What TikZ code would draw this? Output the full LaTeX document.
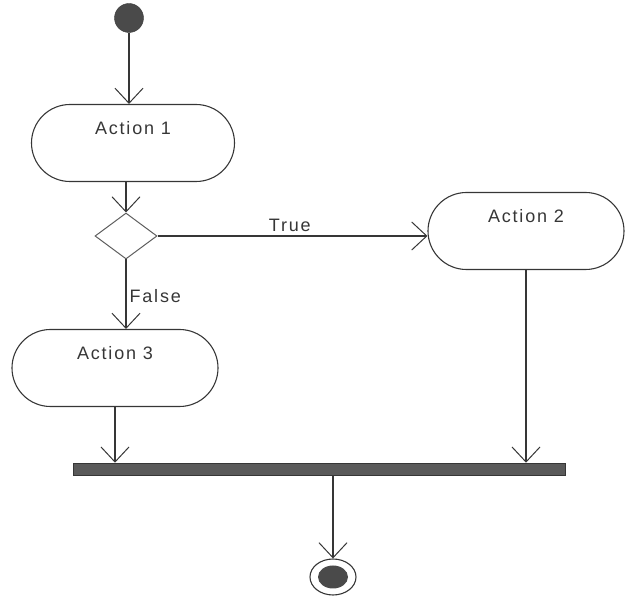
\documentclass[tikz,border=0pt]{standalone}
\usepackage{fontspec}
\setmainfont{Liberation Sans}[LetterSpace=10]
\usetikzlibrary{arrows.meta,shapes.geometric,shapes.misc}
\definecolor{ink}{HTML}{363636}
\definecolor{barfill}{HTML}{5A5A5A}
\begin{document}
\begin{tikzpicture}[x=1pt,y=-1pt,
  every node/.style={font=\fontsize{18}{21}\selectfont, text=ink},
  flow/.style={draw=ink, line width=1.3pt,
    -{Straight Barb[length=15pt,width=28pt,line width=1pt]}},
  actionbox/.style={rounded rectangle, draw=ink, line width=1.1pt,
    inner sep=0pt, minimum height=77pt, text height=13pt, text depth=30pt},
  decision/.style={diamond, draw=ink!80, line width=1pt, inner sep=0pt,
    minimum width=62pt, minimum height=46pt},
  startdot/.style={circle, fill=ink!90, draw=ink, inner sep=0pt, minimum size=29pt},
  syncbar/.style={rectangle, fill=barfill, draw=ink, line width=0.6pt,
    inner sep=0pt, minimum width=492pt, minimum height=12pt},
  guard/.style={inner sep=1pt}
]
\useasboundingbox (0,0) rectangle (625,596);

% nodes
\node[startdot] (start) at (129,18) {};
\node[actionbox, minimum width=203pt] (a1) at (133,143) {Action 1};
\node[decision] (d) at (126,236) {};
\node[actionbox, minimum width=196pt] (a2) at (526,231) {Action 2};
\node[actionbox, minimum width=206pt] (a3) at (115,368) {Action 3};
\node[syncbar] (bar) at (319,469) {};
\node[ellipse, draw=ink, line width=1.1pt, inner sep=0pt,
      minimum width=46pt, minimum height=36pt] (final) at (333,577) {};
\node[ellipse, fill=ink!90, inner sep=0pt,
      minimum width=30pt, minimum height=23pt] (finaldot) at (final.center) {};

% connectors
\draw[flow] (start.south) -- (start.south |- a1.north);
\draw[flow] (a1.south -| d.north) -- (d.north);
\draw[flow] (d.east) -- node[guard, above=3pt, pos=0.49] {True} (d.east -| a2.west);
\draw[flow] (d.south) -- node[guard, right=2pt, pos=0.53] {False} (d.south |- a3.north);
\draw[flow] (a3.south) -- (a3.south |- bar.north);
\draw[flow] (a2.south) -- (a2.south |- bar.north);
\draw[flow] (bar.south -| final.north) -- (final.north);
\end{tikzpicture}
\end{document}
